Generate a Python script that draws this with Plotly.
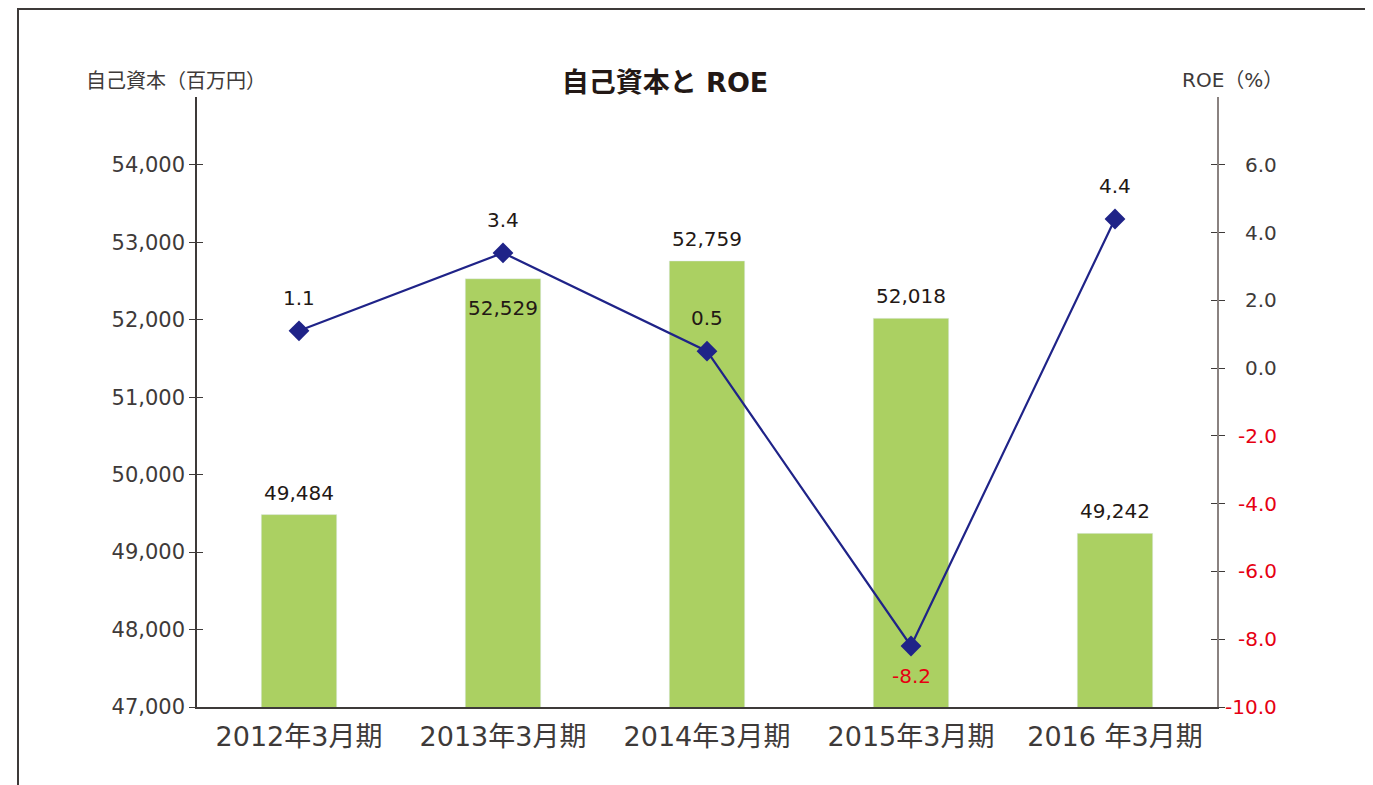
import plotly.graph_objects as go

categories = ["2012年3月期", "2013年3月期", "2014年3月期", "2015年3月期", "2016 年3月期"]
equity = [49484, 52529, 52759, 52018, 49242]
roe = [1.1, 3.4, 0.5, -8.2, 4.4]
left_ticks = [47000, 48000, 49000, 50000, 51000, 52000, 53000, 54000]
right_ticks = [-10.0, -8.0, -6.0, -4.0, -2.0, 0.0, 2.0, 4.0, 6.0]

FONT = "DejaVu Sans, Noto Sans CJK JP"
CJK = "Noto Sans CJK JP"
DARK = "#3e3a39"
LABEL = "#231815"
RED = "#e60012"
BAR = "#abd062"
LINE = "#1f2388"

OFF = 8  # page body margin
W, H = 1365, 777
L, T = 189, 89
pw, ph = 1020, 610
R = W - L - pw
B = H - T - ph

def px(x):
    return (x - OFF - L) / pw

def py(y):
    return (H - B - (y - OFF)) / ph

fig = go.Figure()
fig.add_trace(go.Bar(x=categories, y=equity, marker_color=BAR, width=0.37,
                     yaxis="y", hoverinfo="skip"))
fig.add_trace(go.Scatter(x=categories, y=roe, yaxis="y2", mode="lines+markers",
                         line=dict(color=LINE, width=2.2),
                         marker=dict(symbol="diamond", size=16, color=LINE),
                         hoverinfo="skip"))

ann = []
for c, v in zip(categories, equity):
    inside = (c == categories[1])
    ann.append(dict(x=c, y=v, xref="x", yref="y", text=f"{v:,}", showarrow=False,
                    yshift=-29 if inside else 22,
                    font=dict(family=FONT, size=20, color=LABEL)))
for c, v in zip(categories, roe):
    neg = v < 0
    ann.append(dict(x=c, y=v, xref="x", yref="y2", text=f"{v:.1f}", showarrow=False,
                    yshift=-30 if neg else 33,
                    font=dict(family=FONT, size=20, color=RED if neg else LABEL)))
for v in right_ticks:
    ann.append(dict(x=px(1279), y=v, xref="paper", yref="y2", text=f"{v:.1f}",
                    showarrow=False, xanchor="right", yanchor="middle",
                    font=dict(family=FONT, size=20, color=RED if v < 0 else DARK)))
ann.append(dict(x=px(268), y=py(80), xref="paper", yref="paper", text="自己資本（百万円）",
                showarrow=False, xanchor="right", yanchor="middle",
                font=dict(family=CJK, size=20, color=DARK)))
ann.append(dict(x=px(1285), y=py(80), xref="paper", yref="paper", text="ROE（%）",
                showarrow=False, xanchor="right", yanchor="middle",
                font=dict(family=FONT, size=20, color=DARK)))

fig.update_layout(
    width=W, height=H,
    margin=dict(l=L, r=R, t=T, b=B, autoexpand=False),
    paper_bgcolor="white", plot_bgcolor="white",
    showlegend=False,
    title=dict(text="<b>自己資本と ROE</b>", x=(665 - OFF) / W, y=1 - (83 - OFF) / H,
               xanchor="center", yanchor="middle",
               font=dict(family=FONT, size=27, color=LABEL)),
    xaxis=dict(showline=True, linecolor=DARK, linewidth=1.5, ticks="",
               showgrid=False, zeroline=False, range=[-0.5, 4.5],
               tickfont=dict(family=FONT, size=27, color=DARK), ticklabelstandoff=5),
    yaxis=dict(range=[47000, 54875], tickvals=left_ticks, tickformat=",",
               showline=True, linecolor=DARK, linewidth=1.5, ticks="outside",
               ticklen=6, tickcolor=DARK, showgrid=False, zeroline=False,
               tickfont=dict(family=FONT, size=21, color=DARK)),
    yaxis2=dict(range=[-10, 8], tickvals=right_ticks, overlaying="y", side="right",
                showline=True, linecolor="#8a8280", linewidth=1.5, ticks="outside",
                ticklen=6, tickcolor=DARK, showticklabels=False, showgrid=False,
                zeroline=False),
    yaxis3=dict(range=[47000, 54875], tickvals=left_ticks, overlaying="y", side="left",
                ticks="inside", ticklen=6, tickcolor=DARK, showticklabels=False,
                showgrid=False, zeroline=False, showline=False),
    yaxis4=dict(range=[-10, 8], tickvals=right_ticks, overlaying="y", side="right",
                ticks="inside", ticklen=6, tickcolor=DARK, showticklabels=False,
                showgrid=False, zeroline=False, showline=False),
    annotations=ann,
    shapes=[dict(type="rect", xref="paper", yref="paper",
                 x0=px(18), x1=px(1400), y0=py(810), y1=py(9),
                 line=dict(color=DARK, width=2), fillcolor="rgba(0,0,0,0)", layer="above")],
)
fig.add_trace(go.Scatter(x=[categories[0]], y=[None], yaxis="y3", showlegend=False, hoverinfo="skip"))
fig.add_trace(go.Scatter(x=[categories[0]], y=[None], yaxis="y4", showlegend=False, hoverinfo="skip"))

fig.write_html("out.html")
